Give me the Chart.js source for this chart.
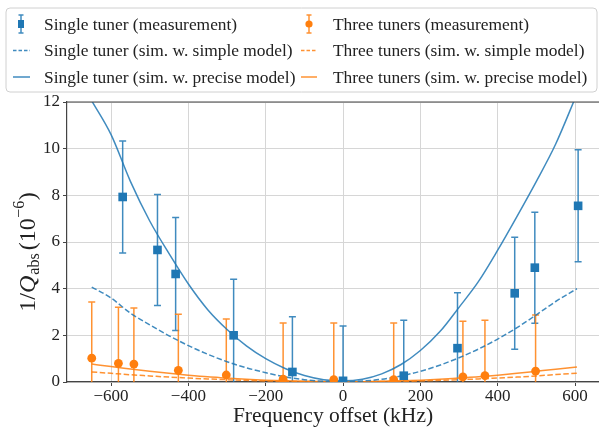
<!DOCTYPE html>
<html>
<head>
<meta charset="utf-8">
<script src="https://cdn.jsdelivr.net/npm/chart.js@4.4.0/dist/chart.umd.min.js"></script>
<style>
html,body{margin:0;padding:0;background:#fff;}
#wrap{width:599px;height:430px;position:relative;}
</style>
</head>
<body>
<div id="wrap"><canvas id="c" width="599" height="430"></canvas></div>
<script>
// ---- data ----
const singleX   = [-570, -480, -433, -283, -131, 0, 157, 296, 444, 496, 608];
const singleY   = [7.93, 5.66, 4.63, 2.0, 0.43, 0.05, 0.27, 1.45, 3.8, 4.9, 7.55];
const singleErr = [2.4, 2.38, 2.42, 2.4, 2.37, 2.35, 2.38, 2.38, 2.4, 2.38, 2.4];

const threeX   = [-650, -581, -541, -426, -302, -155, -24, 131, 310, 367, 498];
const threeY   = [1.02, 0.8, 0.77, 0.5, 0.3, 0.12, 0.1, 0.1, 0.22, 0.27, 0.47];
const threeErr = [2.41, 2.4, 2.4, 2.4, 2.4, 2.41, 2.43, 2.43, 2.38, 2.38, 2.4];

const simX = [-650,-600,-550,-500,-450,-400,-350,-300,-250,-200,-150,-100,-50,0,50,100,150,200,250,300,350,400,450,500,550,605];
const singleSimple  = [4.07,3.6,2.95,2.45,1.98,1.56,1.19,0.87,0.61,0.4,0.22,0.1,0.03,0.01,0.04,0.12,0.26,0.46,0.72,1.04,1.41,1.84,2.33,2.88,3.45,4.0];
const singlePrecise = [12.05,10.6,8.6,6.9,5.5,4.2,3.1,2.25,1.55,1.0,0.58,0.28,0.1,0.05,0.12,0.35,0.75,1.35,2.15,3.2,4.3,5.65,7.1,8.6,10.2,12.35];
const threeSimple   = [0.43,0.37,0.31,0.26,0.21,0.17,0.13,0.1,0.07,0.045,0.03,0.02,0.01,0.005,0.01,0.02,0.03,0.045,0.07,0.1,0.13,0.17,0.21,0.26,0.32,0.38];
const threePrecise  = [0.77,0.66,0.56,0.46,0.37,0.29,0.22,0.17,0.12,0.08,0.05,0.03,0.02,0.01,0.015,0.03,0.05,0.08,0.12,0.17,0.22,0.29,0.37,0.46,0.55,0.64];

const xTicks = [-600, -400, -200, 0, 200, 400, 600];
const yTicks = [0, 2, 4, 6, 8, 10, 12];

const labels = [
  'Single tuner (measurement)',
  'Single tuner (sim. w. simple model)',
  'Single tuner (sim. w. precise model)',
  'Three tuners (measurement)',
  'Three tuners (sim. w. simple model)',
  'Three tuners (sim. w. precise model)'
];

const BLUE = '#1f77b4', ORANGE = '#ff7f0e';
const BLUE_L = 'rgba(31,119,180,0.85)', ORANGE_L = 'rgba(255,127,14,0.85)';
const SERIF = '"Liberation Serif", "DejaVu Serif", serif';
const TXT = '#222';

const pts = (xs, ys) => xs.map((v, i) => ({x: v, y: ys[i]}));
const fmt = v => (v < 0 ? '\u2212' + Math.abs(v) : String(v));

const errorBars = [
  {ds: 0, err: singleErr, color: BLUE_L},
  {ds: 1, err: threeErr, color: ORANGE_L}
];

const errorBarPlugin = {
  id: 'errorBars',
  beforeDatasetsDraw(chart) {
    const {ctx, chartArea: a, scales: {x, y}} = chart;
    ctx.save();
    ctx.beginPath(); ctx.rect(a.left, a.top, a.right - a.left, a.bottom - a.top); ctx.clip();
    errorBars.forEach(eb => {
      const ds = chart.data.datasets[eb.ds];
      ctx.strokeStyle = eb.color; ctx.lineWidth = 1.5;
      ds.data.forEach((p, j) => {
        const e = eb.err[j];
        const px = x.getPixelForValue(p.x);
        const t = y.getPixelForValue(p.y + e), b = y.getPixelForValue(p.y - e);
        ctx.beginPath();
        ctx.moveTo(px, t); ctx.lineTo(px, b);
        ctx.moveTo(px - 3.5, t); ctx.lineTo(px + 3.5, t);
        ctx.moveTo(px - 3.5, b); ctx.lineTo(px + 3.5, b);
        ctx.stroke();
      });
    });
    ctx.restore();
  }
};

const framePlugin = {
  id: 'frame',
  afterDraw(chart) {
    const {ctx, chartArea: a} = chart;
    ctx.save();
    // top spine
    ctx.strokeStyle = '#444'; ctx.lineWidth = 1.2;
    ctx.beginPath(); ctx.moveTo(a.left, a.top); ctx.lineTo(a.right, a.top); ctx.stroke();

    // x title
    ctx.fillStyle = TXT;
    ctx.font = '21.5px ' + SERIF;
    ctx.textAlign = 'center'; ctx.textBaseline = 'middle';
    ctx.fillText('Frequency offset (kHz)', 333, 416);

    // y title: 1/Q_abs (10^-6)
    ctx.save();
    ctx.translate(29, 252);
    ctx.rotate(-Math.PI / 2);
    const parts = [
      {t: '1/', f: '24px ' + SERIF, dy: 0, g: 0},
      {t: 'Q', f: 'italic 24px ' + SERIF, dy: 0, g: 1},
      {t: 'abs', f: '16px ' + SERIF, dy: 6, g: 3},
      {t: '(10', f: '24px ' + SERIF, dy: 0, g: 0.5},
      {t: '\u22126', f: '16px ' + SERIF, dy: -9, g: 0.5},
      {t: ')', f: '24px ' + SERIF, dy: 0, g: 0}
    ];
    let w = 0;
    parts.forEach(p => { ctx.font = p.f; p.w = ctx.measureText(p.t).width; w += p.w + p.g; });
    let cx = -w / 2;
    ctx.textAlign = 'left'; ctx.textBaseline = 'middle';
    parts.forEach(p => { ctx.font = p.f; ctx.fillText(p.t, cx, p.dy); cx += p.w + p.g; });
    ctx.restore();

    // legend
    const bx = 6, by = 8, bw = 591, bh = 84, r = 4;
    ctx.fillStyle = 'rgba(255,255,255,0.85)';
    ctx.strokeStyle = '#d0d0d0'; ctx.lineWidth = 1;
    ctx.beginPath();
    ctx.moveTo(bx + r, by); ctx.lineTo(bx + bw - r, by); ctx.arcTo(bx + bw, by, bx + bw, by + r, r);
    ctx.lineTo(bx + bw, by + bh - r); ctx.arcTo(bx + bw, by + bh, bx + bw - r, by + bh, r);
    ctx.lineTo(bx + r, by + bh); ctx.arcTo(bx, by + bh, bx, by + bh - r, r);
    ctx.lineTo(bx, by + r); ctx.arcTo(bx, by, bx + r, by, r);
    ctx.closePath(); ctx.fill(); ctx.stroke();

    const rows = [24, 50.5, 77];
    const cols = [{hx: 21, l: 13, r: 30, tx: 44, c: BLUE, cl: BLUE_L, m: 'rect'},
                  {hx: 309, l: 301, r: 317, tx: 333, c: ORANGE, cl: ORANGE_L, m: 'circle'}];
    ctx.font = '17.4px ' + SERIF;
    ctx.textAlign = 'left'; ctx.textBaseline = 'middle';
    cols.forEach((col, ci) => {
      rows.forEach((ry, ri) => {
        ctx.fillStyle = TXT;
        ctx.fillText(labels[ci * 3 + ri], col.tx, ry + 1);
        ctx.strokeStyle = col.cl; ctx.lineWidth = 1.5;
        if (ri === 0) {
          ctx.beginPath();
          ctx.moveTo(col.hx, ry - 9); ctx.lineTo(col.hx, ry + 9);
          ctx.moveTo(col.hx - 2.5, ry - 9); ctx.lineTo(col.hx + 2.5, ry - 9);
          ctx.moveTo(col.hx - 2.5, ry + 9); ctx.lineTo(col.hx + 2.5, ry + 9);
          ctx.stroke();
          ctx.fillStyle = col.c;
          if (col.m === 'rect') ctx.fillRect(col.hx - 3, ry - 4, 6, 8);
          else { ctx.beginPath(); ctx.arc(col.hx, ry, 3.6, 0, Math.PI * 2); ctx.fill(); }
        } else {
          ctx.setLineDash(ri === 1 ? [3.5, 2] : []);
          ctx.beginPath(); ctx.moveTo(col.l, ry); ctx.lineTo(col.r, ry); ctx.stroke();
          ctx.setLineDash([]);
        }
      });
    });
    ctx.restore();
  }
};

const lineDs = (label, ys, color, dashed) => ({
  label, type: 'line', data: pts(simX, ys),
  borderColor: color, borderWidth: 1.5, borderDash: dashed ? [5.5, 2.5] : [],
  pointRadius: 0, fill: false, cubicInterpolationMode: 'monotone', showLine: true
});

new Chart(document.getElementById('c'), {
  type: 'scatter',
  data: {
    datasets: [
      {label: labels[0], data: pts(singleX, singleY), pointStyle: 'rect', pointRadius: 6.1,
       backgroundColor: BLUE, borderColor: BLUE, borderWidth: 0, showLine: false},
      {label: labels[3], data: pts(threeX, threeY), pointStyle: 'circle', pointRadius: 4.4,
       backgroundColor: ORANGE, borderColor: ORANGE, borderWidth: 0, showLine: false},
      lineDs(labels[1], singleSimple, BLUE_L, true),
      lineDs(labels[2], singlePrecise, BLUE_L, false),
      lineDs(labels[4], threeSimple, ORANGE_L, true),
      lineDs(labels[5], threePrecise, ORANGE_L, false)
    ]
  },
  options: {
    responsive: false, animation: false,
    layout: {autoPadding: false, padding: {top: 102, left: 0, right: 0, bottom: 0}},
    plugins: {legend: {display: false}, tooltip: {enabled: false}},
    scales: {
      x: {
        type: 'linear', min: -714, max: 662,
        afterBuildTicks: s => { s.ticks = xTicks.map(v => ({value: v})); },
        afterFit: s => { s.height = 48; s.paddingLeft = 0; s.paddingRight = 0; },
        ticks: {callback: v => fmt(v), font: {family: SERIF, size: 17}, color: TXT, padding: 0, maxRotation: 0, autoSkip: false},
        grid: {color: '#d6d6d6', lineWidth: 1, tickLength: 4, tickColor: '#444', drawTicks: true},
        border: {color: '#444', width: 1.2}
      },
      y: {
        type: 'linear', min: 0, max: 12,
        afterBuildTicks: s => { s.ticks = yTicks.map(v => ({value: v})); },
        afterFit: s => { s.width = 67; s.paddingTop = 0; s.paddingBottom = 0; },
        ticks: {callback: v => fmt(v), font: {family: SERIF, size: 17}, color: TXT, padding: 3, autoSkip: false},
        grid: {color: '#d6d6d6', lineWidth: 1, tickLength: 4, tickColor: '#444', drawTicks: true},
        border: {color: '#444', width: 1.2}
      }
    }
  },
  plugins: [errorBarPlugin, framePlugin]
});
</script>
</body>
</html>
